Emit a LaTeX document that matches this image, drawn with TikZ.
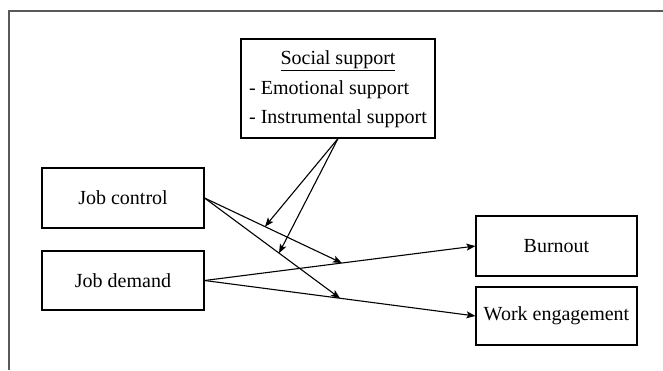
\documentclass[tikz,border=0pt]{standalone}
\usepackage{fontspec}
\setmainfont{Liberation Serif}
\usetikzlibrary{arrows.meta,calc}

\begin{document}
\begin{tikzpicture}[x=1pt,y=-1pt,
    box/.style={draw, line width=1.1pt, minimum width=162pt, minimum height=60pt,
      inner sep=0pt, font=\fontsize{20}{24}\selectfont},
    link/.style={line width=1.1pt, -{Stealth[length=9pt,width=7pt,inset=2pt]}}]
      \useasboundingbox (0,0) rectangle (663,370);
      \draw[line width=1.4pt, black!65] (663,11) -- (9,11) -- (9,370);
      \node[name=soc, box, minimum width=194pt, minimum height=99pt, font=\fontsize{20}{29.5}\selectfont] at (338,88.5)
        {\begin{tabular}{@{}l@{}}\multicolumn{1}{@{}c@{}}{\underline{Social support}}\\- Emotional support\\- Instrumental support\end{tabular}};
      \node[name=ctrl, box] at (123,198){Job control};
      \node[name=dem, box, minimum height=59pt] at (123,280.5){Job demand};
      \node[name=burn, box, minimum width=161pt] at (556.5,246){Burnout};
      \node[name=work, box, minimum width=161pt, minimum height=58pt] at (556.5,316){Work engagement};
      \coordinate (m1) at ($(dem.east)!0.507!(burn.west)$);
      \coordinate (m2) at ($(dem.east)!0.5!(work.west)$);
      \coordinate (s1) at ($(ctrl.east)!0.44!(m1)$);
      \coordinate (s2) at ($(ctrl.east)!0.55!(m2)$);
      \draw[link] (dem.east) -- (burn.west);
      \draw[link] (dem.east) -- (work.west);
      \draw[link] (ctrl.east) -- (m1);
      \draw[link] (ctrl.east) -- (m2);
      \draw[link] (soc.south) -- (s1);
      \draw[link] (soc.south) -- (s2);
   \end{tikzpicture}
\end{document}
